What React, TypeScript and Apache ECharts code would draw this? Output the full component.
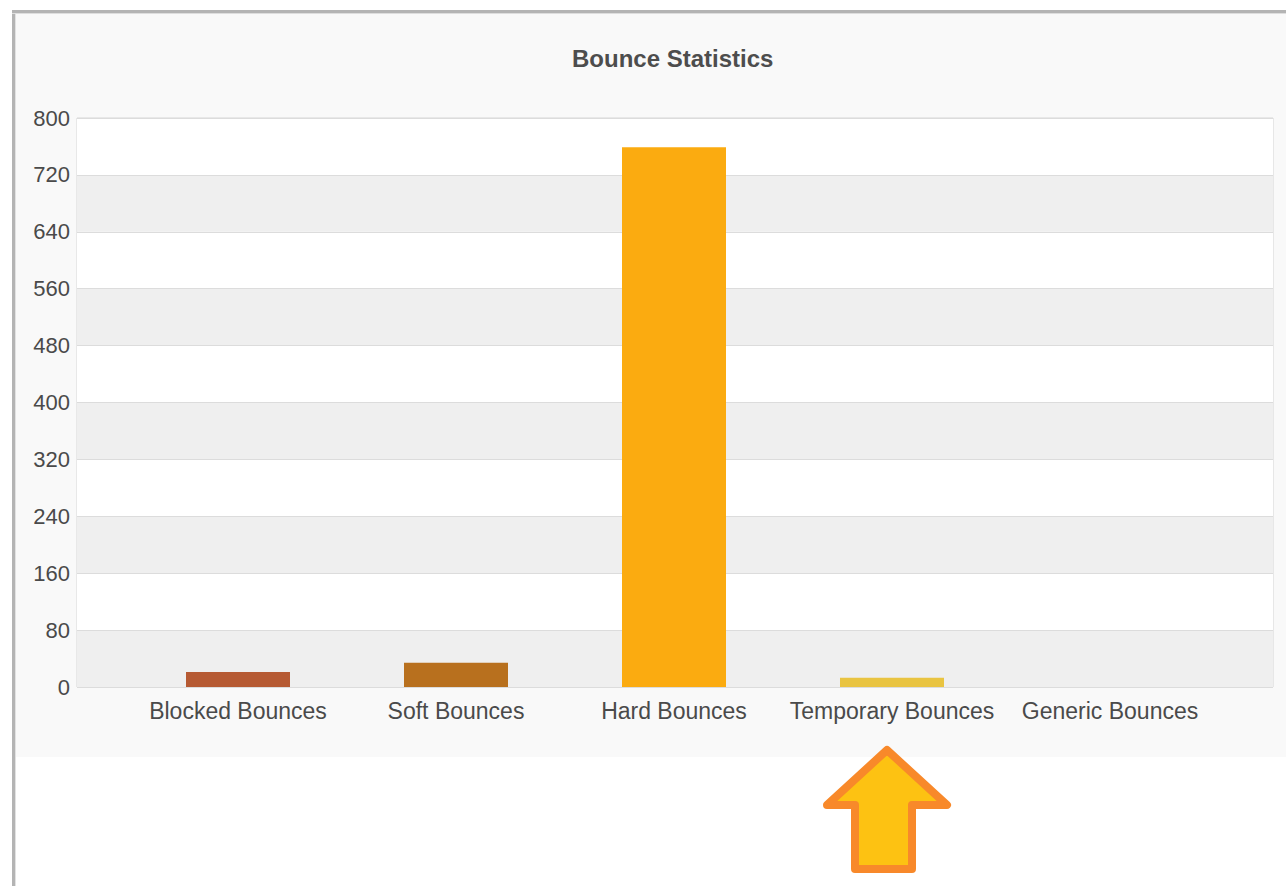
import React, { useEffect, useRef } from "react";
import * as echarts from "echarts";

const categories = ["Blocked Bounces", "Soft Bounces", "Hard Bounces", "Temporary Bounces", "Generic Bounces"];
const values = [21, 34, 759, 13, 0];
const barColors = ["#b65a33", "#b8701e", "#fbab10", "#e9c441", "#d9d9d9"];
const yMin = 0;
const yMax = 800;
const yStep = 80;
const titleText = "Bounce Statistics";

const FONT = "'Liberation Sans', Arial, sans-serif";

export default function App() {
  const ref = useRef<HTMLDivElement>(null);
  useEffect(() => {
    if (!ref.current) return;
    const chart = echarts.init(ref.current, undefined, { renderer: "svg" });
    chart.setOption({
      animation: false,
      backgroundColor: "#ffffff",
      title: {
        text: titleText,
        left: 567,
        top: 41,
        textStyle: { fontFamily: FONT, fontSize: 24, fontWeight: "bold", color: "#4d4d4d" },
      },
      graphic: [
        { type: "rect", z: -10, shape: { x: 14, y: 12, width: 1272, height: 745 }, style: { fill: "#f9f9f9" } },
        { type: "rect", z: 50, shape: { x: 12, y: 10, width: 1274, height: 3 }, style: { fill: "#b4b4b4" } },
        { type: "rect", z: 50, shape: { x: 12, y: 10, width: 3, height: 876 }, style: { fill: "#b4b4b4" } },
        { type: "rect", z: 50, shape: { x: 12, y: 13, width: 1274, height: 1 }, style: { fill: "#dedede" } },
        { type: "rect", z: 50, shape: { x: 15, y: 13, width: 1, height: 873 }, style: { fill: "#e2e2e2" } },
        {
          type: "polygon", z: 100,
          shape: {
            points: [[887, 750], [947, 805], [912, 805], [912, 869], [855, 869], [855, 805], [827, 805]],
          },
          style: { fill: "#fdc212", stroke: "#f8892a", lineWidth: 8, lineJoin: "round" },
        },
      ],
      grid: [
        { left: 77, top: 118, width: 1196, height: 569, show: true, borderColor: "#d6d6d6", borderWidth: 1, backgroundColor: "transparent" },
        { left: 129, top: 118, width: 1090, height: 569 },
      ],
      xAxis: [
        { gridIndex: 0, type: "value", show: false, min: 0, max: 1 },
        {
          gridIndex: 1, type: "category", data: categories,
          axisLine: { show: false }, axisTick: { show: false },
          axisLabel: { color: "#4a4a4a", fontSize: 23, fontFamily: FONT, margin: 12, interval: 0 },
        },
      ],
      yAxis: [
        {
          gridIndex: 0, type: "value", min: yMin, max: yMax, interval: yStep,
          axisLine: { show: false }, axisTick: { show: false },
          axisLabel: { color: "#4a4a4a", fontSize: 22, fontFamily: FONT, margin: 7 },
          splitLine: { show: true, lineStyle: { color: "#dcdcdc", width: 1 } },
          splitArea: { show: true, areaStyle: { color: ["#efefef", "#ffffff"] } },
        },
        { gridIndex: 1, type: "value", min: yMin, max: yMax, show: false, splitLine: { show: false } },
      ],
      series: [
        {
          type: "bar", xAxisIndex: 1, yAxisIndex: 1, barWidth: 104,
          data: values.map((v, i) => ({ value: v, itemStyle: { color: barColors[i] } })),
        },
      ],
    });
    return () => chart.dispose();
  }, []);
  return <div ref={ref} style={{ position: "fixed", left: 0, top: 0, width: 1286, height: 886 }} />;
}
